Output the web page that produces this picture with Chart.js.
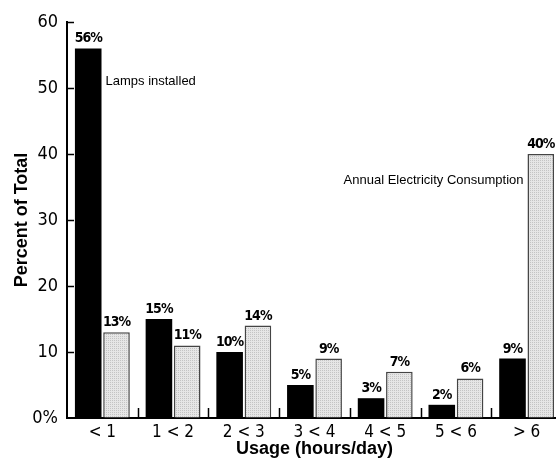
<!DOCTYPE html>
<html>
<head>
<meta charset="utf-8">
<script src="https://cdn.jsdelivr.net/npm/chart.js@4.4.1/dist/chart.umd.min.js"></script>
<style>
  html, body { margin: 0; padding: 0; background: #fff; overflow: hidden; }
  #wrap { width: 556px; height: 462px; overflow: hidden; }
</style>
</head>
<body>
<div id="wrap"><canvas id="chart" width="572" height="462"></canvas></div>
<script>
const categories = ['< 1', '1 < 2', '2 < 3', '3 < 4', '4 < 5', '5 < 6', '> 6'];
const lampsInstalled = [56, 15, 10, 5, 3, 2, 9];
const annualConsumption = [13, 11, 14, 9, 7, 6, 40];
const yTicks = [0, 10, 20, 30, 40, 50, 60];

const narrow = '"DejaVu Sans Condensed", "DejaVu Sans", sans-serif';
const sans = '"Liberation Sans", Arial, sans-serif';

// dotted light grey fill like the original
function dottedPattern() {
    const c = document.createElement('canvas');
    c.width = 2; c.height = 2;
    const g = c.getContext('2d');
    g.fillStyle = '#e6e6e6';
    g.fillRect(0, 0, 2, 2);
    g.fillStyle = '#c4c4c4';
    g.fillRect(0, 0, 1, 1);
    return g.createPattern(c, 'repeat');
}

// tick marks drawn inside the plot, as in the original
const innerTicks = {
    id: 'innerTicks',
    afterDatasetsDraw(chart) {
        const ctx = chart.ctx;
        const x = chart.scales.x, y = chart.scales.y;
        ctx.save();
        ctx.strokeStyle = '#000';
        ctx.lineWidth = 1.5;
        ctx.beginPath();
        yTicks.forEach(v => {
            if (v === 0) return;
            const py = Math.round(y.getPixelForValue(v)) + 0.5;
            ctx.moveTo(x.left, py);
            ctx.lineTo(x.left + 7, py);
        });
        for (let i = 1; i < categories.length; i++) {
            const px = Math.round((x.getPixelForValue(i - 1) + x.getPixelForValue(i)) / 2) + 0.5;
            ctx.moveTo(px, y.bottom);
            ctx.lineTo(px, y.bottom - 10);
        }
        ctx.stroke();
        ctx.restore();
    }
};

const barLabels = {
    id: 'barLabels',
    afterDatasetsDraw(chart) {
        const ctx = chart.ctx;
        const y = chart.scales.y;
        ctx.save();
        ctx.fillStyle = '#000';
        ctx.textAlign = 'center';
        ctx.textBaseline = 'alphabetic';
        ctx.font = 'bold 14px ' + narrow;
        ctx.letterSpacing = '-1px';
        chart.data.datasets.forEach((ds, di) => {
            chart.getDatasetMeta(di).data.forEach((bar, i) => {
                ctx.fillText(ds.data[i] + '%', bar.x, bar.y - 6);
            });
        });
        ctx.letterSpacing = '0px';
        // series names written next to the bars
        ctx.font = '13px ' + sans;
        ctx.textBaseline = 'middle';
        const first = chart.getDatasetMeta(0).data[0];
        ctx.textAlign = 'left';
        ctx.fillText('Lamps installed', first.x + first.width / 2 + 4, y.getPixelForValue(51));
        const last = chart.getDatasetMeta(1).data[categories.length - 1];
        ctx.textAlign = 'right';
        ctx.fillText('Annual Electricity Consumption', last.x - last.width / 2 - 4, y.getPixelForValue(36));
        ctx.restore();
    }
};

new Chart(document.getElementById('chart'), {
    type: 'bar',
    data: {
        labels: categories,
        datasets: [{
            label: 'Lamps installed',
            data: lampsInstalled,
            backgroundColor: '#000',
            borderWidth: 0
        }, {
            label: 'Annual Electricity Consumption',
            data: annualConsumption,
            backgroundColor: dottedPattern(),
            borderColor: '#444',
            borderWidth: 1.5
        }]
    },
    options: {
        responsive: false,
        animation: false,
        layout: { padding: { top: 22, right: 10, left: 0, bottom: 0 } },
        datasets: { bar: { categoryPercentage: 0.8, barPercentage: 0.94 } },
        plugins: {
            legend: { display: false },
            tooltip: { enabled: false }
        },
        scales: {
            x: {
                grid: { display: true, drawOnChartArea: false, drawTicks: false },
                border: { color: '#000', width: 2 },
                ticks: {
                    color: '#000',
                    padding: 4,
                    font: { family: narrow, size: 17 }
                },
                title: {
                    display: true,
                    text: 'Usage (hours/day)',
                    color: '#000',
                    font: { family: sans, size: 18, weight: 'bold' },
                    padding: { top: 0, bottom: 2 }
                },
                afterFit: s => { s.height = 44; }
            },
            y: {
                min: 0,
                max: 60,
                grid: { display: true, drawOnChartArea: false, drawTicks: false },
                border: { color: '#000', width: 2 },
                ticks: {
                    stepSize: 10,
                    color: '#000',
                    padding: 9,
                    font: { family: narrow, size: 18 },
                    callback: v => v === 0 ? '0%' : v
                },
                title: {
                    display: true,
                    text: 'Percent of Total',
                    color: '#000',
                    font: { family: sans, size: 18, weight: 'bold' },
                    padding: { top: 11, bottom: 0 }
                },
                afterFit: s => { s.width = 67; }
            }
        }
    },
    plugins: [innerTicks, barLabels]
});
</script>
</body>
</html>
